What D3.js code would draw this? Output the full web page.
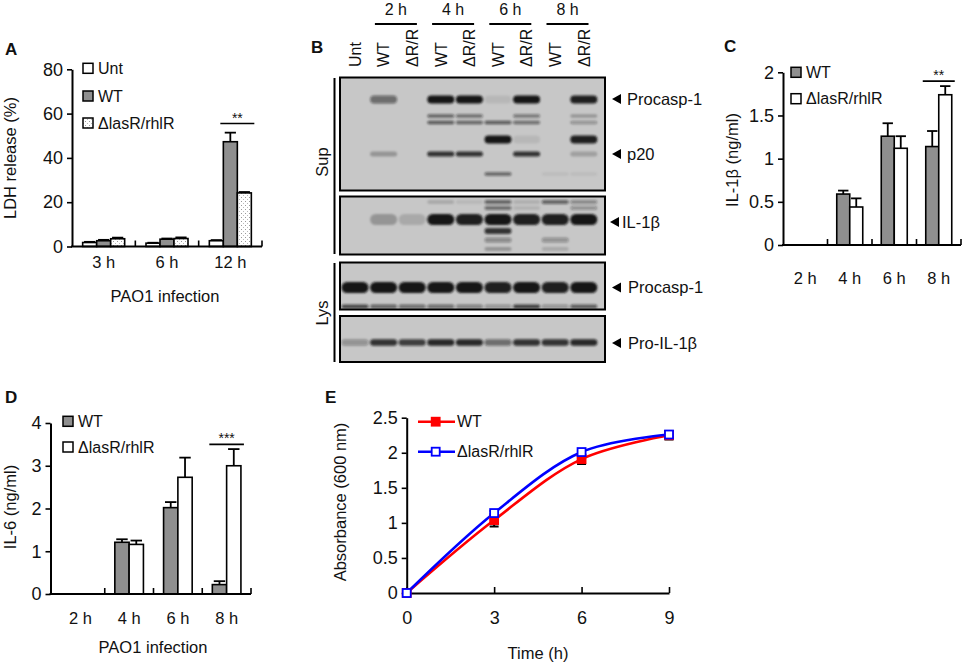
<!DOCTYPE html>
<html><head><meta charset="utf-8">
<script src="https://cdn.jsdelivr.net/npm/d3@7"></script>
<style>
body{margin:0;background:#fff;}
svg{display:block;font-family:Arial,"Liberation Sans",sans-serif;}
text{fill:#111;}
</style></head><body>
<svg id="fig" width="965" height="665"></svg>
<script>
// ================= DATA =================
// Panel A – LDH release
const ldhCategories = ["3 h", "6 h", "12 h"];
const ldhSeriesNames = ["Unt", "WT", "ΔlasR/rhlR"];
const ldhUnt = [1.8, 1.5, 2.6];
const ldhUntErr = [0.3, 0.2, 0.3];
const ldhWT = [2.6, 3.3, 47.3];
const ldhWTErr = [0.4, 0.3, 4.1];
const ldhMut = [3.5, 3.6, 24.2];
const ldhMutErr = [0.5, 0.5, 0.4];
const ldhTicks = [0, 20, 40, 60, 80];

// Panel C – IL-1β
const il1bCategories = ["2 h", "4 h", "6 h", "8 h"];
const il1bSeriesNames = ["WT", "ΔlasR/rhlR"];
const il1bWT = [0, 0.59, 1.26, 1.14];
const il1bWTErr = [0, 0.04, 0.15, 0.18];
const il1bMut = [0, 0.44, 1.12, 1.74];
const il1bMutErr = [0, 0.10, 0.14, 0.10];
const il1bTicks = [0, 0.5, 1, 1.5, 2];

// Panel D – IL-6
const il6Categories = ["2 h", "4 h", "6 h", "8 h"];
const il6SeriesNames = ["WT", "ΔlasR/rhlR"];
const il6WT = [0, 1.21, 2.02, 0.22];
const il6WTErr = [0, 0.07, 0.13, 0.08];
const il6Mut = [0, 1.16, 2.73, 3.00];
const il6MutErr = [0, 0.09, 0.46, 0.39];
const il6Ticks = [0, 1, 2, 3, 4];

// Panel E – growth curve
const growthSeriesNames = ["WT", "ΔlasR/rhlR"];
const growthTime = [0, 3, 6, 9];
const growthWT = [0, 1.04, 1.91, 2.25];
const growthWTErr = [0, 0.09, 0.07, 0.06];
const growthMut = [0, 1.14, 2.01, 2.26];
const growthMutErr = [0, 0.03, 0.03, 0.05];
const growthYTicks = [0, 0.5, 1, 1.5, 2, 2.5];
const growthXTicks = [0, 3, 6, 9];

// Panel B – western blot (band intensities per lane, 0..1)
const blotLaneLabels = ["Unt", "WT", "ΔR/R", "WT", "ΔR/R", "WT", "ΔR/R", "WT", "ΔR/R"];
const blotTimeLabels = ["2 h", "4 h", "6 h", "8 h"];
const blotRowLabels = ["Procasp-1", "p20", "IL-1β", "Procasp-1", "Pro-IL-1β"];
const blotGroupLabels = ["Sup", "Lys"];
const supProcasp   = [0, 0.5, 0, 1, 1, 0.08, 1, 0, 0.95];
const supMidUpper  = [0, 0, 0, 0.55, 0.5, 0, 0.45, 0, 0.25];
const supMidLower  = [0, 0, 0, 0.6, 0.55, 0.6, 0.5, 0, 0.3];
const supCleaved   = [0, 0, 0, 0, 0, 1, 0.08, 0, 0.95];
const supP20       = [0, 0.25, 0, 0.85, 0.85, 0, 0.85, 0, 0.2];
const supLow       = [0, 0, 0, 0, 0, 0.55, 0, 0.06, 0.06];
const supIl1bTop   = [0, 0, 0, 0.15, 0.08, 0.55, 0.12, 0.55, 0.35];
const supIl1bUpper = [0, 0, 0, 0, 0, 0.5, 0.1, 0, 0.3];
const supIl1b      = [0, 0.25, 0.15, 1, 0.95, 1, 0.95, 0.95, 1];
const supIl1bLow1  = [0, 0, 0, 0, 0, 0.8, 0, 0, 0];
const supIl1bLow2  = [0, 0, 0, 0, 0, 0.35, 0, 0.3, 0];
const supIl1bLow3  = [0, 0, 0, 0, 0, 0.25, 0, 0.15, 0];
const lysProcasp   = [1, 1, 1, 1, 1, 0.95, 1, 0.95, 1];
const lysProcaspLow= [0.7, 0.55, 0.5, 0.5, 0.4, 0.3, 0.75, 0.3, 0.6];
const lysProIl1b   = [0.3, 0.85, 0.75, 0.9, 0.9, 0.5, 0.85, 0.85, 0.9];

// ================= DRAWING =================
const svg = d3.select("#fig");
const defs = svg.append("defs");
const pat = defs.append("pattern").attr("id", "dots").attr("width", 4).attr("height", 4)
  .attr("patternUnits", "userSpaceOnUse");
pat.append("rect").attr("width", 4).attr("height", 4).attr("fill", "#fff");
pat.append("rect").attr("x", 1).attr("y", 1).attr("width", 1).attr("height", 1).attr("fill", "#999");
pat.append("rect").attr("x", 3).attr("y", 3).attr("width", 1).attr("height", 1).attr("fill", "#bbb");
defs.append("filter").attr("id", "blur").attr("x", "-20%").attr("y", "-100%").attr("width", "140%").attr("height", "300%")
  .append("feGaussianBlur").attr("stdDeviation", 0.9);

const WT_FILL = "#8f8f8f";
const TICK_FONT = 18;

function panelLabel(t, x, y) {
  svg.append("text").attr("x", x).attr("y", y).attr("font-size", 17).attr("font-weight", "bold").text(t);
}

function styleAxis(a) {
  a.attr("font-family", null).attr("font-size", TICK_FONT);
  a.select(".domain").attr("stroke", "#000").attr("stroke-width", 2);
  a.selectAll(".tick line").attr("stroke", "#000").attr("stroke-width", 1.6);
  a.selectAll(".tick text").attr("fill", "#111");
}

function barPanel(cfg) {
  const g = svg.append("g");
  const x = d3.scaleBand().domain(cfg.categories).range(cfg.xRange);
  const n = cfg.series.length;
  const bw = x.bandwidth();
  const inner = d3.scaleBand().domain(d3.range(n))
    .range([(bw - cfg.barW * n) / 2, (bw + cfg.barW * n) / 2]);
  const y = d3.scaleLinear().domain(cfg.yDomain).range(cfg.yRange);
  const capW = cfg.barW * 0.8;

  cfg.series.forEach((s, si) => {
    const rows = cfg.categories.map((c, i) => ({ c, v: s.values[i], e: s.errors[i] })).filter(d => d.v > 0);
    const sg = g.append("g");
    const cx = d => x(d.c) + inner(si) + cfg.barW / 2;
    sg.selectAll("line.eb").data(rows.filter(d => d.e > 0)).join("line")
      .attr("x1", cx).attr("x2", cx)
      .attr("y1", d => y(d.v)).attr("y2", d => y(d.v + d.e))
      .attr("stroke", "#000").attr("stroke-width", 1.8);
    sg.selectAll("line.cap").data(rows.filter(d => d.e > 0)).join("line")
      .attr("x1", d => cx(d) - capW / 2).attr("x2", d => cx(d) + capW / 2)
      .attr("y1", d => y(d.v + d.e)).attr("y2", d => y(d.v + d.e))
      .attr("stroke", "#000").attr("stroke-width", 1.8);
    sg.selectAll("rect").data(rows).join("rect")
      .attr("x", d => x(d.c) + inner(si)).attr("width", cfg.barW)
      .attr("y", d => y(d.v)).attr("height", d => y(0) - y(d.v))
      .attr("fill", s.fill).attr("stroke", "#000").attr("stroke-width", 1.6);
  });

  const ya = g.append("g").attr("transform", `translate(${cfg.axisX},0)`)
    .call(d3.axisLeft(y).tickValues(cfg.ticks).tickSize(5).tickSizeOuter(0).tickPadding(4)
      .tickFormat(d => String(d)));
  styleAxis(ya);

  g.append("line").attr("x1", cfg.axisX - 1).attr("x2", cfg.xRange[1])
    .attr("y1", y(0)).attr("y2", y(0)).attr("stroke", "#000").attr("stroke-width", 2);
  g.selectAll("line.bt").data(cfg.categories).join("line")
    .attr("x1", d => x(d) + bw).attr("x2", d => x(d) + bw)
    .attr("y1", y(0)).attr("y2", y(0) - 6).attr("stroke", "#000").attr("stroke-width", 1.6);
  g.selectAll("text.cat").data(cfg.categories).join("text")
    .attr("x", d => x(d) + bw / 2).attr("y", cfg.labelY).attr("text-anchor", "middle")
    .attr("font-size", 16.5).text(d => d);
  if (cfg.xTitle) {
    g.append("text").attr("x", cfg.xTitlePos[0]).attr("y", cfg.xTitlePos[1]).attr("text-anchor", "middle")
      .attr("font-size", 16.5).text(cfg.xTitle);
  }
  g.append("text").attr("transform", `translate(${cfg.yTitlePos[0]},${cfg.yTitlePos[1]}) rotate(-90)`)
    .attr("text-anchor", "middle").attr("dy", "0.35em").attr("font-size", 16.5).text(cfg.yTitle);

  cfg.series.forEach((s, si) => {
    const cy = cfg.legend.y[si];
    g.append("rect").attr("x", cfg.legend.x).attr("y", cy - 5).attr("width", 10).attr("height", 10)
      .attr("fill", s.fill).attr("stroke", "#000").attr("stroke-width", 1.5);
    g.append("text").attr("x", cfg.legend.x + 15).attr("y", cy).attr("dy", "0.36em")
      .attr("font-size", 16).text(s.name);
  });

  if (cfg.sig) {
    const c = cfg.sig.category;
    const x1 = x(c) + inner(cfg.sig.from) - 3, x2 = x(c) + inner(cfg.sig.to) + cfg.barW + 3;
    const ly = y(cfg.sig.level);
    g.append("line").attr("x1", x1).attr("x2", x2).attr("y1", ly).attr("y2", ly)
      .attr("stroke", "#000").attr("stroke-width", 1.6);
    g.append("text").attr("x", (x1 + x2) / 2).attr("y", ly - 1).attr("text-anchor", "middle")
      .attr("font-size", 14).text(cfg.sig.text);
  }
}

// ---------- Panel A ----------
panelLabel("A", 5, 55);
barPanel({
  categories: ldhCategories, xRange: [72, 262], axisX: 72,
  yDomain: [0, 80], yRange: [246.5, 69.3], ticks: ldhTicks, barW: 14,
  series: [
    { name: ldhSeriesNames[0], values: ldhUnt, errors: ldhUntErr, fill: "#fff" },
    { name: ldhSeriesNames[1], values: ldhWT, errors: ldhWTErr, fill: WT_FILL },
    { name: ldhSeriesNames[2], values: ldhMut, errors: ldhMutErr, fill: "url(#dots)" }
  ],
  labelY: 268, xTitle: "PAO1 infection", xTitlePos: [165, 302],
  yTitle: "LDH release (%)", yTitlePos: [10, 158],
  legend: { x: 83, y: [68.3, 96, 123] },
  sig: { category: "12 h", from: 1, to: 2, level: 55.5, text: "**" }
});

// ---------- Panel C ----------
panelLabel("C", 724, 52);
barPanel({
  categories: il1bCategories, xRange: [783, 961], axisX: 783,
  yDomain: [0, 2], yRange: [245, 72.3], ticks: il1bTicks, barW: 13,
  series: [
    { name: il1bSeriesNames[0], values: il1bWT, errors: il1bWTErr, fill: WT_FILL },
    { name: il1bSeriesNames[1], values: il1bMut, errors: il1bMutErr, fill: "#fff" }
  ],
  labelY: 284, xTitle: null,
  yTitle: "IL-1β (ng/ml)", yTitlePos: [732, 160],
  legend: { x: 791, y: [72.3, 98.7] },
  sig: { category: "8 h", from: 0, to: 1, level: 1.898, text: "**" }
});

// ---------- Panel D ----------
panelLabel("D", 5, 403);
barPanel({
  categories: il6Categories, xRange: [56, 251], axisX: 50.5,
  yDomain: [0, 4], yRange: [594, 423], ticks: il6Ticks, barW: 14.3,
  series: [
    { name: il6SeriesNames[0], values: il6WT, errors: il6WTErr, fill: WT_FILL },
    { name: il6SeriesNames[1], values: il6Mut, errors: il6MutErr, fill: "#fff" }
  ],
  labelY: 624, xTitle: "PAO1 infection", xTitlePos: [153, 653],
  yTitle: "IL-6 (ng/ml)", yTitlePos: [10, 507],
  legend: { x: 63, y: [421.3, 447] },
  sig: { category: "8 h", from: 0, to: 1, level: 3.5, text: "***" }
});

// ---------- Panel E ----------
panelLabel("E", 325, 403);
(function () {
  const g = svg.append("g");
  const x = d3.scaleLinear().domain([0, 9]).range([406.7, 669]);
  const y = d3.scaleLinear().domain([0, 2.5]).range([593, 417.7]);
  const ya = g.append("g").attr("transform", "translate(406.7,0)")
    .call(d3.axisLeft(y).tickValues(growthYTicks).tickSize(5).tickSizeOuter(0).tickPadding(4)
      .tickFormat(d => String(d)));
  styleAxis(ya);
  const xa = g.append("g").attr("transform", "translate(0,593)")
    .call(d3.axisBottom(x).tickValues(growthXTicks).tickSize(-6).tickSizeOuter(0).tickPadding(18)
      .tickFormat(d => String(d)));
  styleAxis(xa);
  g.append("text").attr("x", 538).attr("y", 659).attr("text-anchor", "middle").attr("font-size", 16.5).text("Time (h)");
  g.append("text").attr("transform", "translate(340,502) rotate(-90)").attr("text-anchor", "middle")
    .attr("dy", "0.35em").attr("font-size", 16.5).text("Absorbance (600 nm)");

  const series = [
    { name: growthSeriesNames[0], v: growthWT, e: growthWTErr, color: "#ff0000", fill: "#ff0000" },
    { name: growthSeriesNames[1], v: growthMut, e: growthMutErr, color: "#0000ff", fill: "#fff" }
  ];
  const line = d3.line().x(d => x(d.t)).y(d => y(d.v)).curve(d3.curveCatmullRom.alpha(0.5));
  series.forEach(s => {
    const pts = growthTime.map((t, i) => ({ t, v: s.v[i] }));
    g.append("path").datum(pts).attr("d", line).attr("fill", "none")
      .attr("stroke", s.color).attr("stroke-width", 2.6);
  });
  series.forEach(s => {
    const pts = growthTime.map((t, i) => ({ t, v: s.v[i], e: s.e[i] }));
    g.selectAll(null).data(pts.filter(d => d.e > 0)).join("path")
      .attr("d", d => {
        const cx = x(d.t), y1 = y(d.v - d.e), y2 = y(d.v + d.e);
        return `M${cx},${y1}V${y2}M${cx - 4.5},${y1}H${cx + 4.5}M${cx - 4.5},${y2}H${cx + 4.5}`;
      })
      .attr("fill", "none").attr("stroke", "#000").attr("stroke-width", 2);
  });
  series.forEach(s => {
    const pts = growthTime.map((t, i) => ({ t, v: s.v[i] }));
    g.selectAll(null).data(pts).join("rect")
      .attr("x", d => x(d.t) - 4).attr("y", d => y(d.v) - 4).attr("width", 8).attr("height", 8)
      .attr("fill", s.fill).attr("stroke", s.color).attr("stroke-width", 1.8);
  });
  const ly = [421.7, 451.7];
  series.forEach((s, i) => {
    g.append("line").attr("x1", 418).attr("x2", 455).attr("y1", ly[i]).attr("y2", ly[i])
      .attr("stroke", s.color).attr("stroke-width", 2.6);
    g.append("rect").attr("x", 435.7 - 4).attr("y", ly[i] - 4).attr("width", 8).attr("height", 8)
      .attr("fill", s.fill).attr("stroke", s.color).attr("stroke-width", 1.8);
    g.append("text").attr("x", 457).attr("y", ly[i]).attr("dy", "0.36em").attr("font-size", 16).text(s.name);
  });
})();

// ---------- Panel B (western blot) ----------
panelLabel("B", 311, 53);
(function () {
  const g = svg.append("g");
  const lane = d3.scalePoint().domain(d3.range(blotLaneLabels.length)).range([355, 583.8]);
  const boxX0 = 340, boxX1 = 605;
  const boxes = [[77.5, 190.5], [196.5, 254.5], [262.5, 309.5], [316, 362]];
  const rows = [
    { box: 0, data: supProcasp, y: 99.5, h: 8 },
    { box: 0, data: supMidUpper, y: 116, h: 3.5 },
    { box: 0, data: supMidLower, y: 122.5, h: 3.5 },
    { box: 0, data: supCleaved, y: 139.5, h: 8 },
    { box: 0, data: supP20, y: 154, h: 5 },
    { box: 0, data: supLow, y: 174, h: 3.5 },
    { box: 1, data: supIl1bTop, y: 202, h: 4 },
    { box: 1, data: supIl1bUpper, y: 208, h: 4 },
    { box: 1, data: supIl1b, y: 219.5, h: 11 },
    { box: 1, data: supIl1bLow1, y: 231, h: 6 },
    { box: 1, data: supIl1bLow2, y: 240, h: 5 },
    { box: 1, data: supIl1bLow3, y: 249, h: 4 },
    { box: 2, data: lysProcasp, y: 287.5, h: 11 },
    { box: 2, data: lysProcaspLow, y: 306.5, h: 4 },
    { box: 3, data: lysProIl1b, y: 342.5, h: 6.5 }
  ];
  boxes.forEach((b, bi) => {
    defs.append("clipPath").attr("id", "clipbox" + bi).append("rect")
      .attr("x", boxX0).attr("y", b[0]).attr("width", boxX1 - boxX0).attr("height", b[1] - b[0]);
    g.append("rect").attr("x", boxX0).attr("y", b[0]).attr("width", boxX1 - boxX0).attr("height", b[1] - b[0])
      .attr("fill", "#c7c7c7");
  });
  rows.forEach(r => {
    const rg = g.append("g").attr("clip-path", `url(#clipbox${r.box})`).attr("filter", "url(#blur)");
    rg.selectAll("rect").data(r.data.map((v, i) => ({ v, i })).filter(d => d.v > 0)).join("rect")
      .attr("x", d => lane(d.i) - 13.5).attr("width", 27)
      .attr("y", r.y - r.h / 2).attr("height", r.h).attr("rx", r.h / 2)
      .attr("fill", "#141414").attr("opacity", d => d.v);
  });
  boxes.forEach(b => {
    g.append("rect").attr("x", boxX0).attr("y", b[0]).attr("width", boxX1 - boxX0).attr("height", b[1] - b[0])
      .attr("fill", "none").attr("stroke", "#000").attr("stroke-width", 2);
  });
  g.selectAll("text.lane").data(blotLaneLabels).join("text")
    .attr("transform", (d, i) => `translate(${lane(i)},67) rotate(-90)`)
    .attr("dy", "0.36em").attr("font-size", 16).text(d => d);
  blotTimeLabels.forEach((t, k) => {
    const a = lane(1 + 2 * k), b = lane(2 + 2 * k);
    const c = (a + b) / 2 - 2;
    g.append("line").attr("x1", c - 21).attr("x2", c + 21).attr("y1", 24).attr("y2", 24)
      .attr("stroke", "#000").attr("stroke-width", 2);
    g.append("text").attr("x", c).attr("y", 15).attr("text-anchor", "middle").attr("font-size", 16).text(t);
  });
  const brackets = [[78, 254], [263, 362]];
  const bracketMid = [162, 313];
  blotGroupLabels.forEach((t, i) => {
    g.append("line").attr("x1", 334.5).attr("x2", 334.5).attr("y1", brackets[i][0]).attr("y2", brackets[i][1])
      .attr("stroke", "#000").attr("stroke-width", 2);
    g.append("text").attr("transform", `translate(322,${bracketMid[i]}) rotate(-90)`)
      .attr("text-anchor", "middle").attr("dy", "0.36em").attr("font-size", 16.5).text(t);
  });
  const rlY = [99, 154, 222, 287.5, 343];
  const rlTri = [612, 612, 610, 612, 612];
  const rlText = [627, 627, 622, 628, 628];
  blotRowLabels.forEach((t, i) => {
    const tx = rlTri[i], ty = rlY[i];
    g.append("path").attr("d", `M${tx},${ty}L${tx + 9},${ty - 5}L${tx + 9},${ty + 5}Z`).attr("fill", "#000");
    g.append("text").attr("x", rlText[i]).attr("y", ty).attr("dy", "0.36em").attr("font-size", 16.5).text(t);
  });
})();
</script></body></html>
